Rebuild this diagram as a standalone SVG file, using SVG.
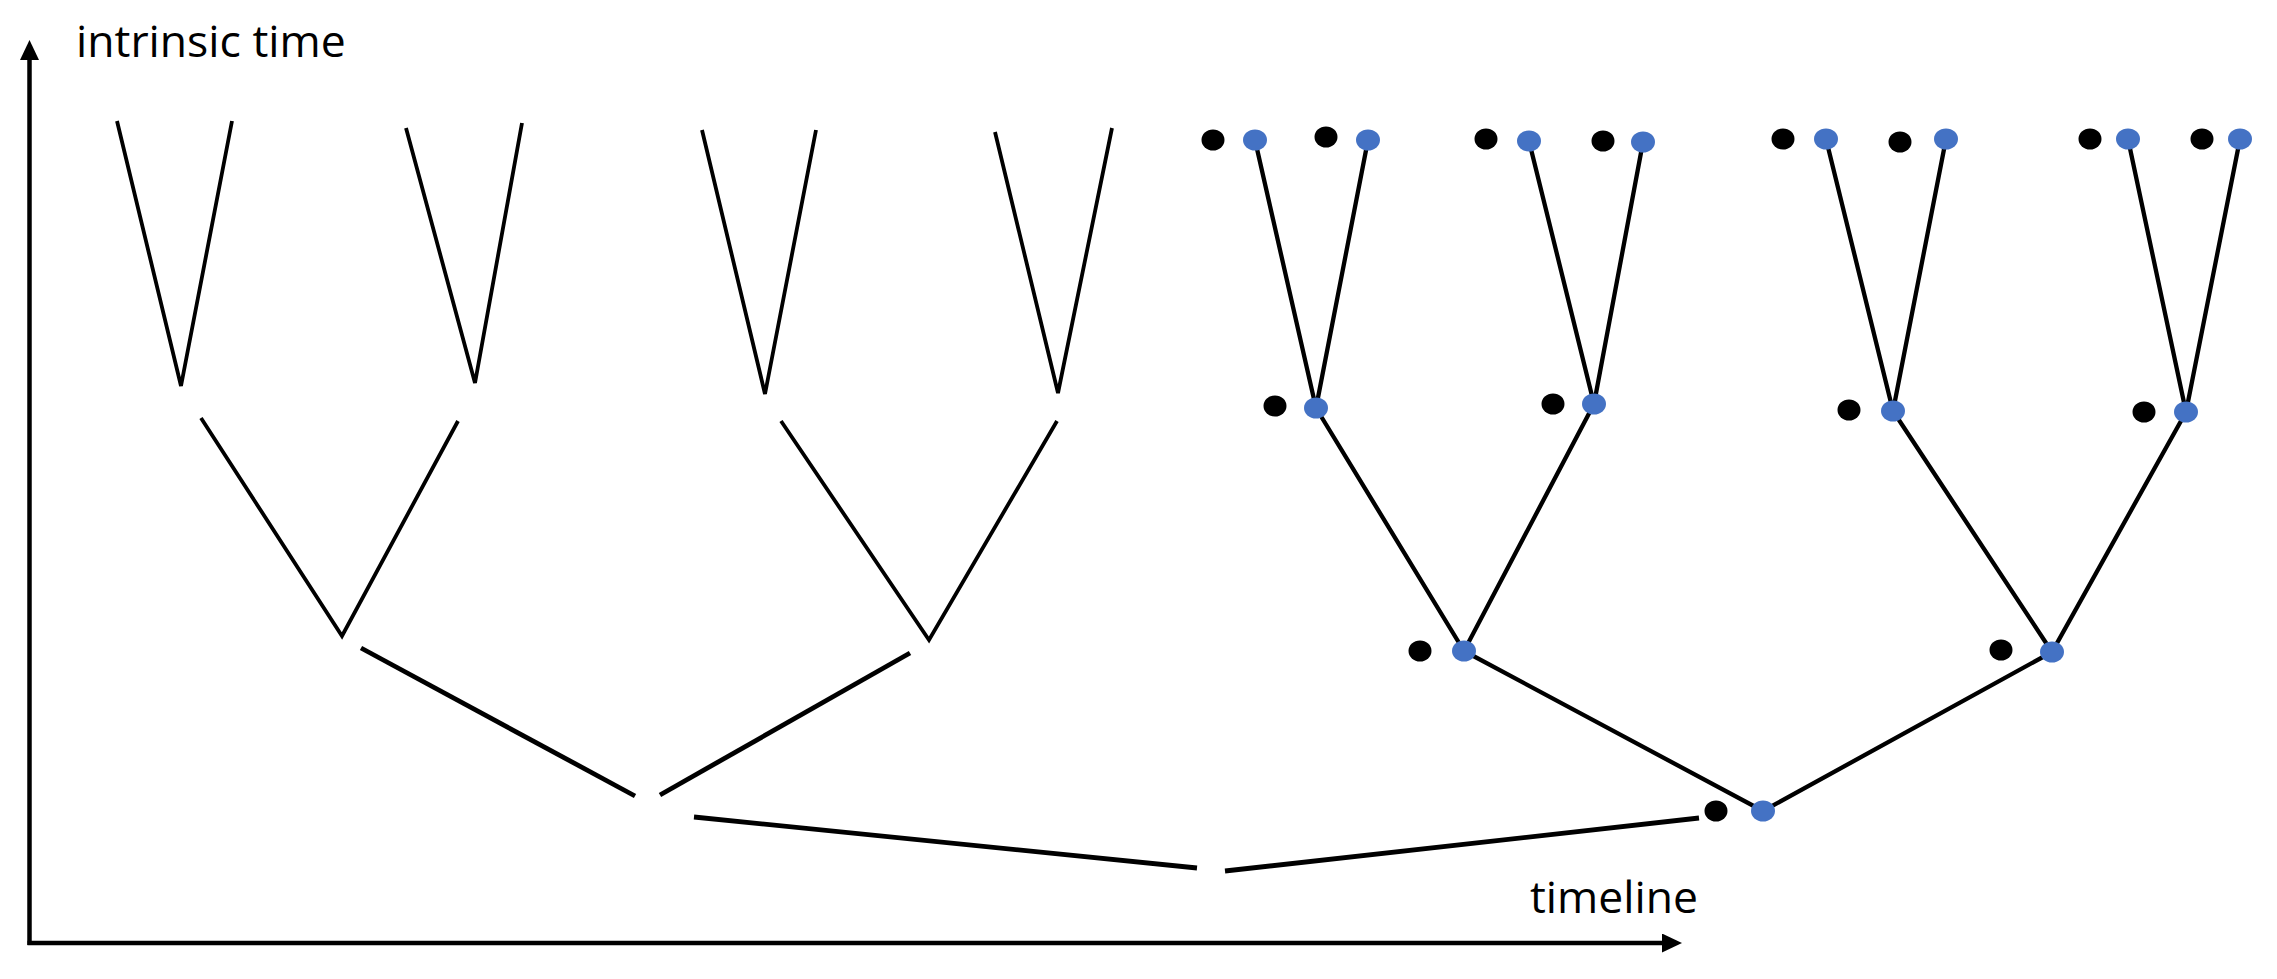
<svg xmlns="http://www.w3.org/2000/svg" width="2277" height="979" viewBox="0 0 2277 979">
<defs>
<marker id="arrow" markerUnits="userSpaceOnUse" viewBox="0 0 20 19" markerWidth="20" markerHeight="19" refX="0" refY="9.5" orient="auto">
<path d="M0,0 L20,9.5 L0,19 Z" fill="#000"/>
</marker>
<style>
.ax{stroke:#000;stroke-width:4.5;fill:none}
.e1{stroke:#000;stroke-width:3.8;fill:none;stroke-linecap:butt}
.e2{stroke:#000;stroke-width:4.8;fill:none;stroke-linecap:butt}
.e3{stroke:#000;stroke-width:4.3;fill:none}
.bk{fill:#000}
.bl{fill:#4472C4}
.lbl{font-family:"Open Sans","Liberation Sans",sans-serif;font-size:44.5px;fill:#000}
</style>
</defs>
<rect width="2277" height="979" fill="#fff"/>
<g id="axes">
<line class="ax" x1="29.5" y1="945" x2="29.5" y2="60" marker-end="url(#arrow)"/>
<line class="ax" x1="27.5" y1="943" x2="1662" y2="943" marker-end="url(#arrow)"/>
<text class="lbl" x="76" y="57">intrinsic time</text>
<text class="lbl" x="1530" y="913">timeline</text>
</g>
<g id="connectors">
<polyline class="e1" points="117,121 181,386 232,121"/>
<polyline class="e1" points="406,128 475,383 522,123"/>
<polyline class="e1" points="702,130 765,394 816,130"/>
<polyline class="e1" points="995,132 1058,393 1112,128"/>
<polyline class="e1" points="201,418 342,636 458,421"/>
<polyline class="e1" points="781,421 929,640 1057,421"/>
<line class="e2" x1="361" y1="648" x2="635" y2="796"/>
<line class="e2" x1="910" y1="653" x2="660" y2="795"/>
<line class="e2" x1="694" y1="817" x2="1197" y2="868"/>
<line class="e2" x1="1225" y1="871" x2="1699" y2="818"/>
<polyline class="e3" points="1255,140 1316,408 1368,140"/>
<polyline class="e3" points="1529,141 1594,404 1643,142"/>
<polyline class="e3" points="1826,139 1893,411 1946,139"/>
<polyline class="e3" points="2128,139 2186,412 2240,139"/>
<polyline class="e3" points="1316,408 1464,651 1594,404"/>
<polyline class="e3" points="1893,411 2052,652 2186,412"/>
<polyline class="e3" points="1464,651 1763,811 2052,652"/>
</g>
<g id="n-top-1"><ellipse class="bk" cx="1213" cy="140" rx="11.5" ry="10.5"/><ellipse class="bl" cx="1255" cy="140" rx="12" ry="10.5"/></g>
<g id="n-top-2"><ellipse class="bk" cx="1326" cy="137" rx="11.5" ry="10.5"/><ellipse class="bl" cx="1368" cy="140" rx="12" ry="10.5"/></g>
<g id="n-top-3"><ellipse class="bk" cx="1486" cy="139" rx="11.5" ry="10.5"/><ellipse class="bl" cx="1529" cy="141" rx="12" ry="10.5"/></g>
<g id="n-top-4"><ellipse class="bk" cx="1603" cy="141" rx="11.5" ry="10.5"/><ellipse class="bl" cx="1643" cy="142" rx="12" ry="10.5"/></g>
<g id="n-top-5"><ellipse class="bk" cx="1783" cy="139" rx="11.5" ry="10.5"/><ellipse class="bl" cx="1826" cy="139" rx="12" ry="10.5"/></g>
<g id="n-top-6"><ellipse class="bk" cx="1900" cy="142" rx="11.5" ry="10.5"/><ellipse class="bl" cx="1946" cy="139" rx="12" ry="10.5"/></g>
<g id="n-top-7"><ellipse class="bk" cx="2090" cy="139" rx="11.5" ry="10.5"/><ellipse class="bl" cx="2128" cy="139" rx="12" ry="10.5"/></g>
<g id="n-top-8"><ellipse class="bk" cx="2202" cy="139" rx="11.5" ry="10.5"/><ellipse class="bl" cx="2240" cy="139" rx="12" ry="10.5"/></g>
<g id="n-l2-1"><ellipse class="bk" cx="1275" cy="406" rx="11.5" ry="10.5"/><ellipse class="bl" cx="1316" cy="408" rx="12" ry="10.5"/></g>
<g id="n-l2-2"><ellipse class="bk" cx="1553" cy="404" rx="11.5" ry="10.5"/><ellipse class="bl" cx="1594" cy="404" rx="12" ry="10.5"/></g>
<g id="n-l2-3"><ellipse class="bk" cx="1849" cy="410" rx="11.5" ry="10.5"/><ellipse class="bl" cx="1893" cy="411" rx="12" ry="10.5"/></g>
<g id="n-l2-4"><ellipse class="bk" cx="2144" cy="412" rx="11.5" ry="10.5"/><ellipse class="bl" cx="2186" cy="412" rx="12" ry="10.5"/></g>
<g id="n-l3-1"><ellipse class="bk" cx="1420" cy="651" rx="11.5" ry="10.5"/><ellipse class="bl" cx="1464" cy="651" rx="12" ry="10.5"/></g>
<g id="n-l3-2"><ellipse class="bk" cx="2001" cy="650" rx="11.5" ry="10.5"/><ellipse class="bl" cx="2052" cy="652" rx="12" ry="10.5"/></g>
<g id="n-root"><ellipse class="bk" cx="1716" cy="811" rx="11.5" ry="10.5"/><ellipse class="bl" cx="1763" cy="811" rx="12" ry="10.5"/></g>
</svg>
